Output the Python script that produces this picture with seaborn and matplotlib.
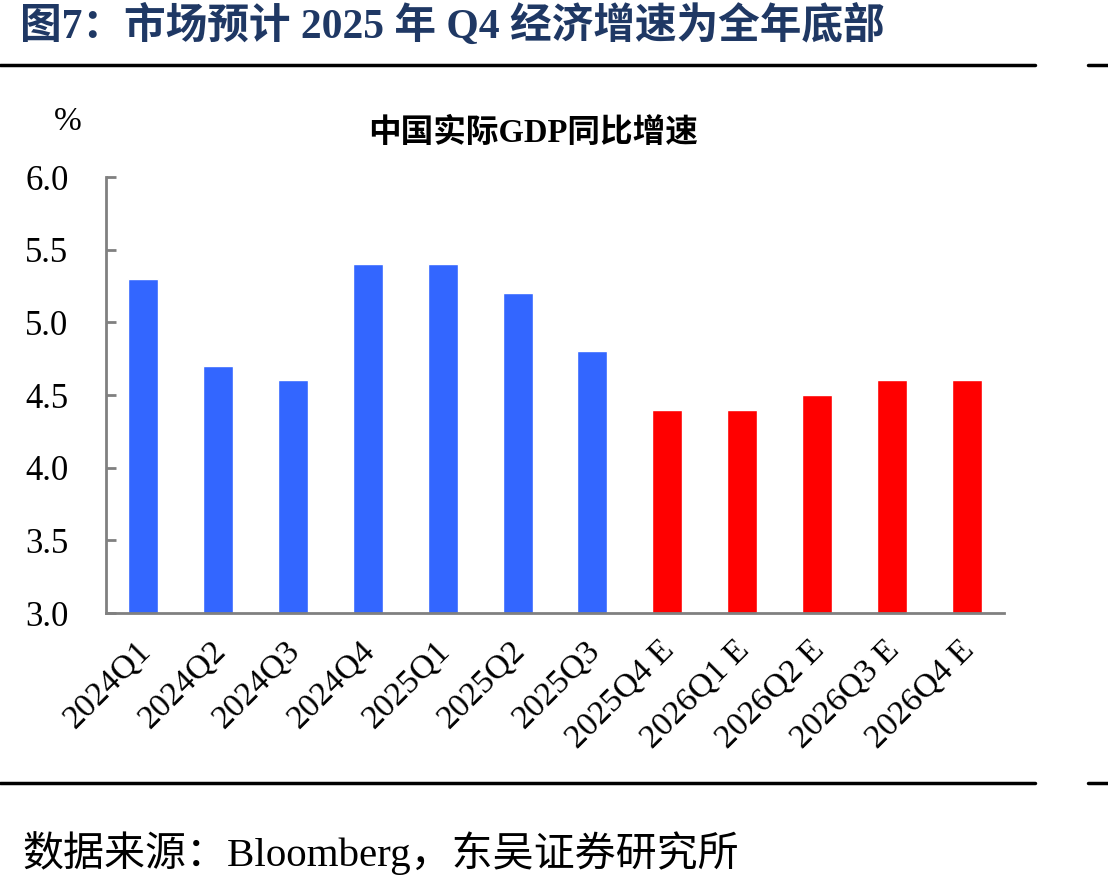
import matplotlib
matplotlib.use("Agg")
import matplotlib.pyplot as plt
import matplotlib.transforms as mtransforms
from matplotlib.lines import Line2D
import seaborn as sns

categories = ["2024Q1", "2024Q2", "2024Q3", "2024Q4", "2025Q1", "2025Q2",
              "2025Q3", "2025Q4 E", "2026Q1 E", "2026Q2 E", "2026Q3 E", "2026Q4 E"]
values = [5.3, 4.7, 4.6, 5.4, 5.4, 5.2, 4.8, 4.4, 4.4, 4.5, 4.6, 4.6]
bar_colors = ["#3366FF"] * 7 + ["#FF0000"] * 5
yticks = [3.0, 3.5, 4.0, 4.5, 5.0, 5.5, 6.0]

sns.set_theme(style="white")
plt.rcParams['font.family'] = ['Liberation Serif', 'Noto Sans CJK SC', 'DejaVu Sans']
plt.rcParams['text.color'] = 'black'
plt.rcParams['xtick.labelcolor'] = 'black'
plt.rcParams['ytick.labelcolor'] = 'black'

fig = plt.figure(figsize=(11.08, 8.85), dpi=100)
ax = fig.add_axes([106/1108, 1 - 613/885, (1004 - 106)/1108, (613 - 177)/885])

sns.barplot(x=categories, y=values, hue=categories, palette=bar_colors,
            width=0.4, legend=False, ax=ax, saturation=1)

ax.set_ylim(3.0, 6.0)
ax.set_xlim(-0.5, 11.5)
ax.set_yticks(yticks)
ax.set_yticklabels([f"{v:.1f}" for v in yticks], fontsize=25, color='black')
ax.set_xticks(range(len(categories)))
ax.set_xticklabels(categories, fontsize=24.5, rotation=45, ha='right',
                   va='top', rotation_mode='anchor', color='black')
ax.set_xticks([i + 0.5 for i in range(len(categories) - 1)], minor=True)
ax.tick_params(axis='x', which='major', length=0, pad=16)
ax.tick_params(axis='x', which='minor', direction='in', length=6, width=2, color='#808080')
ax.tick_params(axis='y', direction='in', length=7, width=2, color='#808080', pad=27, left=True)
offset = mtransforms.ScaledTranslation(-8/100, 0, fig.dpi_scale_trans)
for lbl in ax.get_xticklabels():
    lbl.set_transform(lbl.get_transform() + offset)
ax.set_xlabel("")
ax.set_ylabel("")
for s in ['top', 'right']:
    ax.spines[s].set_visible(False)
for s in ['left', 'bottom']:
    ax.spines[s].set_color('#808080')
    ax.spines[s].set_linewidth(2)
ax.grid(False)

fig.text(20/1108, 1 - 26/885, "图7：市场预计 2025 年 Q4 经济增速为全年底部",
         fontsize=30, fontweight='bold', color='#1F3864', ha='left', va='center')
fig.text(533/1108, 1 - 133/885, "中国实际GDP同比增速", fontsize=23.5,
         fontweight='bold', color='black', ha='center', va='center')
fig.text(68/1108, 1 - 122/885, "%", fontsize=24, color='black', ha='center', va='center')
fig.text(22/1108, 1 - 853/885, "数据来源：Bloomberg，东吴证券研究所",
         fontsize=29.5, color='black', ha='left', va='center')

for yy in [65, 783]:
    yf = 1 - yy/885
    fig.add_artist(Line2D([0, 1035/1108], [yf, yf], transform=fig.transFigure,
                          color='black', lw=2.5))
    fig.add_artist(Line2D([1088/1108, 1.0], [yf, yf], transform=fig.transFigure,
                          color='black', lw=2.5))

fig.savefig("out.png", dpi=100)
